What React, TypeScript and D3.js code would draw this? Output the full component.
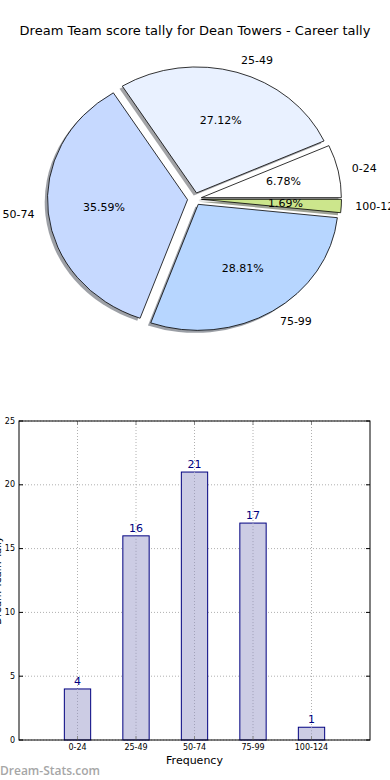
import React from "react";
import * as d3 from "d3";

const bands = ["0-24", "25-49", "50-74", "75-99", "100-124"];
const tallies = [4, 16, 21, 17, 1];
const sliceColors = ["#ffffff", "#e9f1ff", "#c6d9ff", "#b7d6ff", "#cce68c"];
const yTicks = [0, 5, 10, 15, 20, 25];

const title = "Dream Team score tally for Dean Towers - Career tally";
const font = "'DejaVu Sans', sans-serif";

function darken(c: string) {
  const col = d3.rgb(c);
  return d3.rgb(col.r * 0.3, col.g * 0.3, col.b * 0.3).toString();
}

function PieChart() {
  const cx = 194.5;
  const cy = 199;
  const rx = 140;
  const ry = 126;
  const explode = 0.05;

  const total = d3.sum(tallies);
  const pie = d3
    .pie<number>()
    .sort(null)
    .startAngle(Math.PI / 2)
    .endAngle(Math.PI / 2 - 2 * Math.PI);
  const slices = pie(tallies);
  const arc = d3.arc<d3.PieArcDatum<number>>().innerRadius(0).outerRadius(1);

  return (
    <g>
      {slices.map((s, i) => {
        const a = (s.startAngle + s.endAngle) / 2;
        const dx = explode * rx * Math.sin(a);
        const dy = -explode * ry * Math.cos(a);
        return (
          <path
            key={"sh" + i}
            d={arc(s) || ""}
            transform={`translate(${cx + dx - 0.02 * rx},${cy + dy + 0.02 * ry}) scale(${rx},${ry})`}
            fill={darken(sliceColors[i])}
            fillOpacity={0.5}
          />
        );
      })}
      {slices.map((s, i) => {
        const a = (s.startAngle + s.endAngle) / 2;
        const dx = explode * rx * Math.sin(a);
        const dy = -explode * ry * Math.cos(a);
        return (
          <path
            key={"sl" + i}
            d={arc(s) || ""}
            transform={`translate(${cx + dx},${cy + dy}) scale(${rx},${ry})`}
            fill={sliceColors[i]}
            stroke="#000"
            strokeWidth={0.8}
            vectorEffect="non-scaling-stroke"
          />
        );
      })}
      {slices.map((s, i) => {
        const a = (s.startAngle + s.endAngle) / 2;
        const sx = Math.sin(a);
        const cyy = -Math.cos(a);
        return (
          <g key={"lb" + i} fontFamily={font} fontSize={11} fill="#000">
            <text
              x={cx + (1.1 + explode) * rx * sx}
              y={cy + (1.1 + explode) * ry * cyy}
              textAnchor={sx > 0 ? "start" : "end"}
              dominantBaseline="central"
            >
              {bands[i]}
            </text>
            <text
              x={cx + (0.6 + explode) * rx * sx}
              y={cy + (0.6 + explode) * ry * cyy}
              textAnchor="middle"
              dominantBaseline="central"
            >
              {((s.value / total) * 100).toFixed(2)}%
            </text>
          </g>
        );
      })}
    </g>
  );
}

function BarChart() {
  const left = 19;
  const right = 370;
  const top = 421;
  const bottom = 740;
  const barWidth = 0.45;

  const x = d3.scaleLinear().domain([-1, 5]).range([left, right]);
  const y = d3.scaleLinear().domain([0, 25]).range([bottom, top]);

  return (
    <g fontFamily={font}>
      {yTicks.map(t => (
        <line key={"gy" + t} x1={left} x2={right} y1={y(t)} y2={y(t)} stroke="#b0b0b0" strokeWidth={1} strokeDasharray="1,2" />
      ))}
      {bands.map((b, i) => (
        <line key={"gx" + i} x1={x(i)} x2={x(i)} y1={top} y2={bottom} stroke="#b0b0b0" strokeWidth={1} strokeDasharray="1,2" />
      ))}
      {tallies.map((v, i) => (
        <g key={"bar" + i}>
          <rect
            x={x(i - barWidth / 2)}
            y={y(v)}
            width={x(barWidth) - x(0)}
            height={y(0) - y(v)}
            fill="#cccce4"
            stroke="#000080"
            strokeWidth={1}
          />
          <line x1={x(i)} x2={x(i)} y1={y(v)} y2={bottom} stroke="#a0a0b8" strokeWidth={1} strokeDasharray="1,2" />
          <text x={x(i)} y={y(v) - 4} textAnchor="middle" fontSize={11} fill="#000080">
            {v}
          </text>
        </g>
      ))}
      {yTicks.map(t => (
        <g key={"ty" + t}>
          <line x1={left} x2={left + 4} y1={y(t)} y2={y(t)} stroke="#000" />
          <line x1={right} x2={right - 4} y1={y(t)} y2={y(t)} stroke="#000" />
          <text x={left - 4} y={y(t)} textAnchor="end" dominantBaseline="central" fontSize={8} fill="#000">
            {t}
          </text>
        </g>
      ))}
      {bands.map((b, i) => (
        <g key={"tx" + i}>
          <line x1={x(i)} x2={x(i)} y1={bottom} y2={bottom - 4} stroke="#888" />
          <line x1={x(i)} x2={x(i)} y1={top} y2={top + 4} stroke="#888" />
          <text x={x(i)} y={bottom + 10} textAnchor="middle" fontSize={8} fill="#000">
            {b}
          </text>
        </g>
      ))}
      <rect x={left} y={top} width={right - left} height={bottom - top} fill="none" stroke="#000" strokeWidth={1} />
      <text x={(left + right) / 2} y={bottom + 24} textAnchor="middle" fontSize={11} fill="#000">
        Frequency
      </text>
      <text
        transform={`translate(1,${(top + bottom) / 2}) rotate(-90)`}
        textAnchor="middle"
        fontSize={10}
        fill="#000"
      >
        Dream Team Tally
      </text>
    </g>
  );
}

export default function App() {
  return (
    <div style={{ position: "fixed", left: 0, top: 0 }}>
      <svg width={390} height={780} style={{ display: "block", background: "#fff" }}>
        <text x={195} y={30} textAnchor="middle" dominantBaseline="central" fontFamily={font} fontSize={13} fill="#000">
          {title}
        </text>
        <PieChart />
        <BarChart />
        <text x={0} y={775} fontFamily="'Open Sans', sans-serif" fontSize={12} fontWeight={600} fill="#a6a6a6">
          Dream-Stats.com
        </text>
      </svg>
    </div>
  );
}
